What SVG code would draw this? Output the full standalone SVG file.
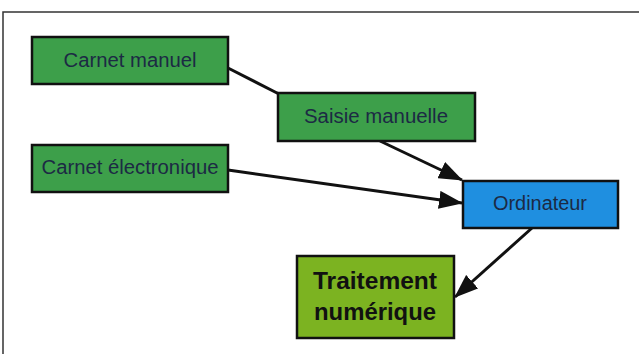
<svg xmlns="http://www.w3.org/2000/svg" width="639" height="354" viewBox="0 0 639 354">
<defs>
<style>
.box{stroke:#111;stroke-width:2.5}
.g{fill:#3d9f4a}
.b{fill:#1f8fe0}
.o{fill:#7cb321}
.t{font-family:"Liberation Sans",Arial,sans-serif;font-size:20px;fill:#1c2a44;text-anchor:middle}
.tb{font-family:"Liberation Sans",Arial,sans-serif;font-size:23px;font-weight:bold;fill:#111;text-anchor:middle}
.c{stroke:#111;stroke-width:3;fill:none}
</style>
<marker id="ah" markerUnits="userSpaceOnUse" markerWidth="24" markerHeight="18" refX="23" refY="9" orient="auto">
<path d="M0,0 L24,9 L0,18 Z" fill="#111"/>
</marker>
</defs>
<rect width="639" height="354" fill="#fff"/>
<g id="frame">
<path d="M639,12 L3,12 L3,354" stroke="#333" stroke-width="1.5" fill="none"/>
</g>
<g id="connectors">
<line class="c" x1="228" y1="68" x2="279" y2="94"/>
<line class="c" x1="380" y1="141" x2="462" y2="180" marker-end="url(#ah)"/>
<line class="c" x1="228" y1="170" x2="462" y2="203" marker-end="url(#ah)"/>
<line class="c" x1="532" y1="228" x2="455" y2="297" marker-end="url(#ah)"/>
</g>
<g id="carnet-manuel">
<rect class="box g" x="32" y="37" width="196" height="47"/>
<text class="t" x="130" y="67" textLength="133" lengthAdjust="spacingAndGlyphs">Carnet manuel</text>
</g>
<g id="saisie-manuelle">
<rect class="box g" x="278" y="93" width="197" height="48"/>
<text class="t" x="376" y="123" textLength="144" lengthAdjust="spacingAndGlyphs">Saisie manuelle</text>
</g>
<g id="carnet-electronique">
<rect class="box g" x="32" y="145" width="196" height="47"/>
<text class="t" x="130" y="174" textLength="177" lengthAdjust="spacingAndGlyphs">Carnet électronique</text>
</g>
<g id="ordinateur">
<rect class="box b" x="463" y="181" width="155" height="47"/>
<text class="t" x="540" y="210" textLength="94" lengthAdjust="spacingAndGlyphs">Ordinateur</text>
</g>
<g id="traitement">
<rect class="box o" x="297" y="256" width="157" height="82"/>
<text class="tb" x="375" y="289" textLength="124" lengthAdjust="spacingAndGlyphs">Traitement</text>
<text class="tb" x="375" y="320" textLength="122" lengthAdjust="spacingAndGlyphs">numérique</text>
</g>
</svg>
